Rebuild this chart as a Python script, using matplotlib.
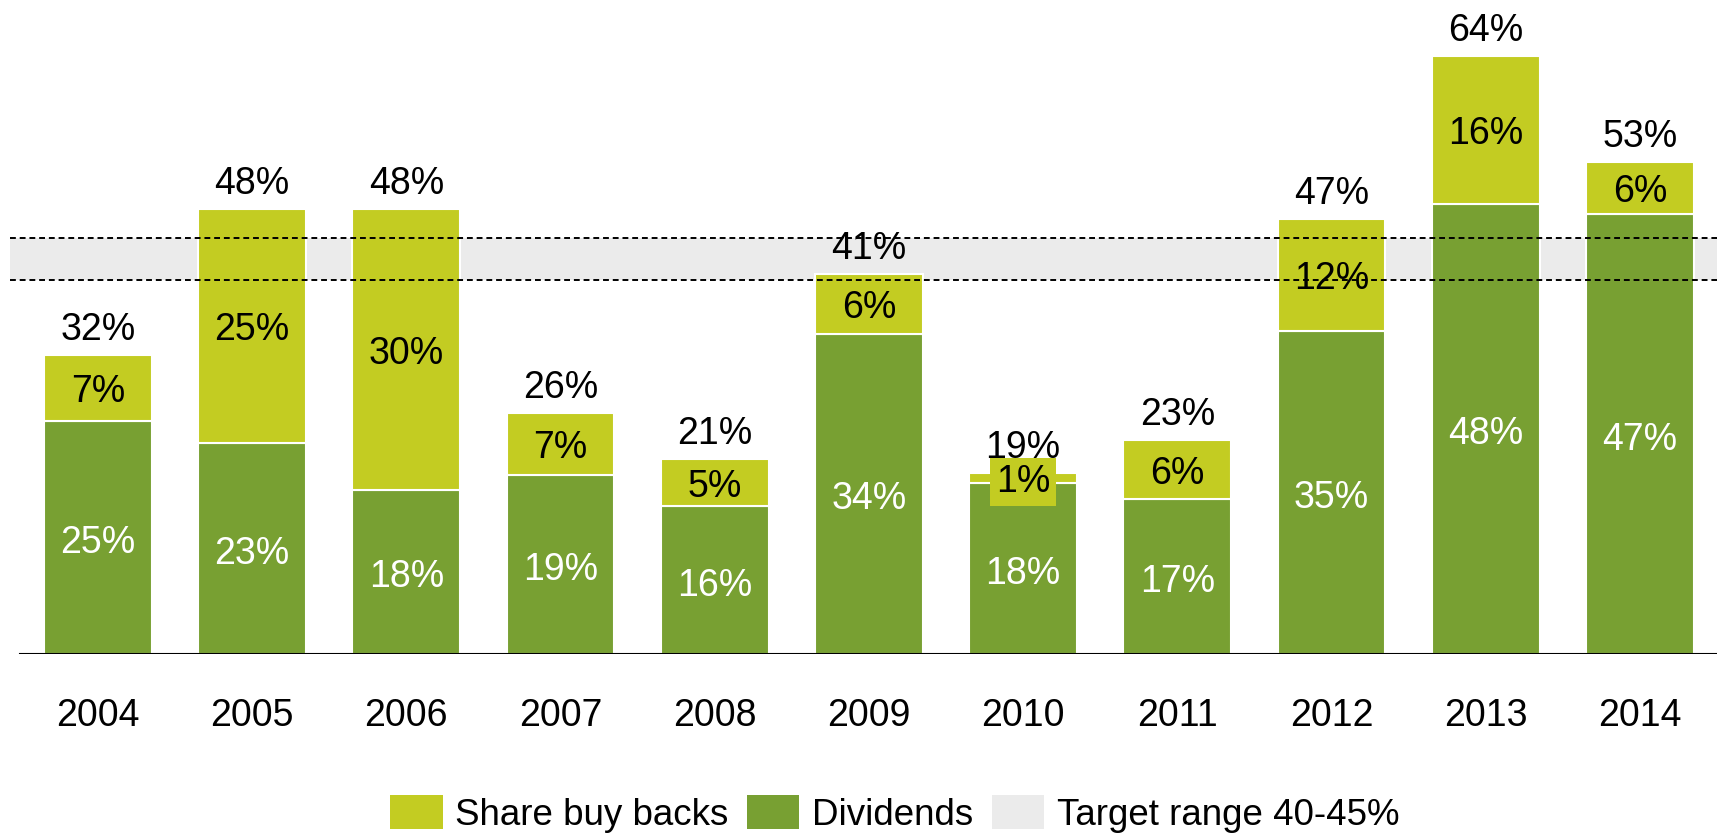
import matplotlib
matplotlib.use("Agg")
import matplotlib.pyplot as plt
from matplotlib.patches import Patch

plt.rcParams['font.family'] = ['Liberation Sans', 'DejaVu Sans']

years = ['2004', '2005', '2006', '2007', '2008', '2009', '2010', '2011', '2012', '2013', '2014']
dividends = [24.9, 22.6, 17.6, 19.2, 15.8, 34.3, 18.3, 16.6, 34.6, 48.2, 47.1]
buybacks = [7.1, 25.0, 30.0, 6.6, 5.1, 6.4, 1.1, 6.3, 12.0, 15.8, 5.6]
target_band = (40, 44.5)
legend_labels = ['Share buy backs', 'Dividends', 'Target range 40-45%']

C_BUY = '#C3CC22'
C_DIV = '#78A032'
C_BAND = '#EBEBEB'
FS = 27

fig = plt.figure(figsize=(17.17, 8.35), dpi=100)
ax = fig.add_axes([10 / 1717, 181 / 835, 1707 / 1717, 654 / 835])

x = list(range(len(years)))
totals = [d + b for d, b in zip(dividends, buybacks)]

ax.axhspan(target_band[0], target_band[1], color=C_BAND, zorder=1, lw=0)
for yv in target_band:
    ax.axhline(yv, color='black', lw=1.4, ls=(0, (3, 2)), zorder=5)

ax.bar(x, dividends, width=0.7, color=C_DIV, edgecolor='white', linewidth=1.5, zorder=2)
ax.bar(x, buybacks, width=0.7, bottom=dividends, color=C_BUY, edgecolor='white', linewidth=1.5, zorder=2)

XL = (-0.57, 10.5)
ax.axhline(0, xmin=(-0.508 - XL[0]) / (XL[1] - XL[0]), xmax=1, color='black', lw=1.5, zorder=6)

for i in x:
    d, b, t = dividends[i], buybacks[i], totals[i]
    ax.annotate(f'{round(d):.0f}%', (i, d / 2), xytext=(0, -4), textcoords='offset points',
                ha='center', va='center', color='white', fontsize=FS, zorder=7)
    kw = {}
    if b < 3:
        kw['bbox'] = dict(facecolor=C_BUY, edgecolor='none', boxstyle='square,pad=0.15')
    ax.annotate(f'{round(b):.0f}%', (i, d + b / 2), xytext=(0, -3), textcoords='offset points',
                ha='center', va='center', color='black', fontsize=FS, zorder=7, **kw)
    ax.annotate(f'{round(t):.0f}%', (i, t), xytext=(0, 18), textcoords='offset points',
                ha='center', va='center', color='black', fontsize=FS, zorder=7)

ax.set_xlim(*XL)
ax.set_ylim(0, 70)
ax.set_xticks(x)
ax.set_xticklabels(years, fontsize=FS)
ax.tick_params(axis='x', length=0, pad=32)
ax.set_yticks([])
for s in ax.spines.values():
    s.set_visible(False)

handles = [Patch(facecolor=c, edgecolor='none', label=l)
           for c, l in zip([C_BUY, C_DIV, C_BAND], legend_labels)]
fig.legend(handles=handles, loc='center', bbox_to_anchor=(0.521, 0.025), ncol=3, frameon=False,
           fontsize=26.5, handlelength=1.43, handleheight=1.05, handletextpad=0.34, columnspacing=0.5)

fig.savefig('out.png', dpi=100)
